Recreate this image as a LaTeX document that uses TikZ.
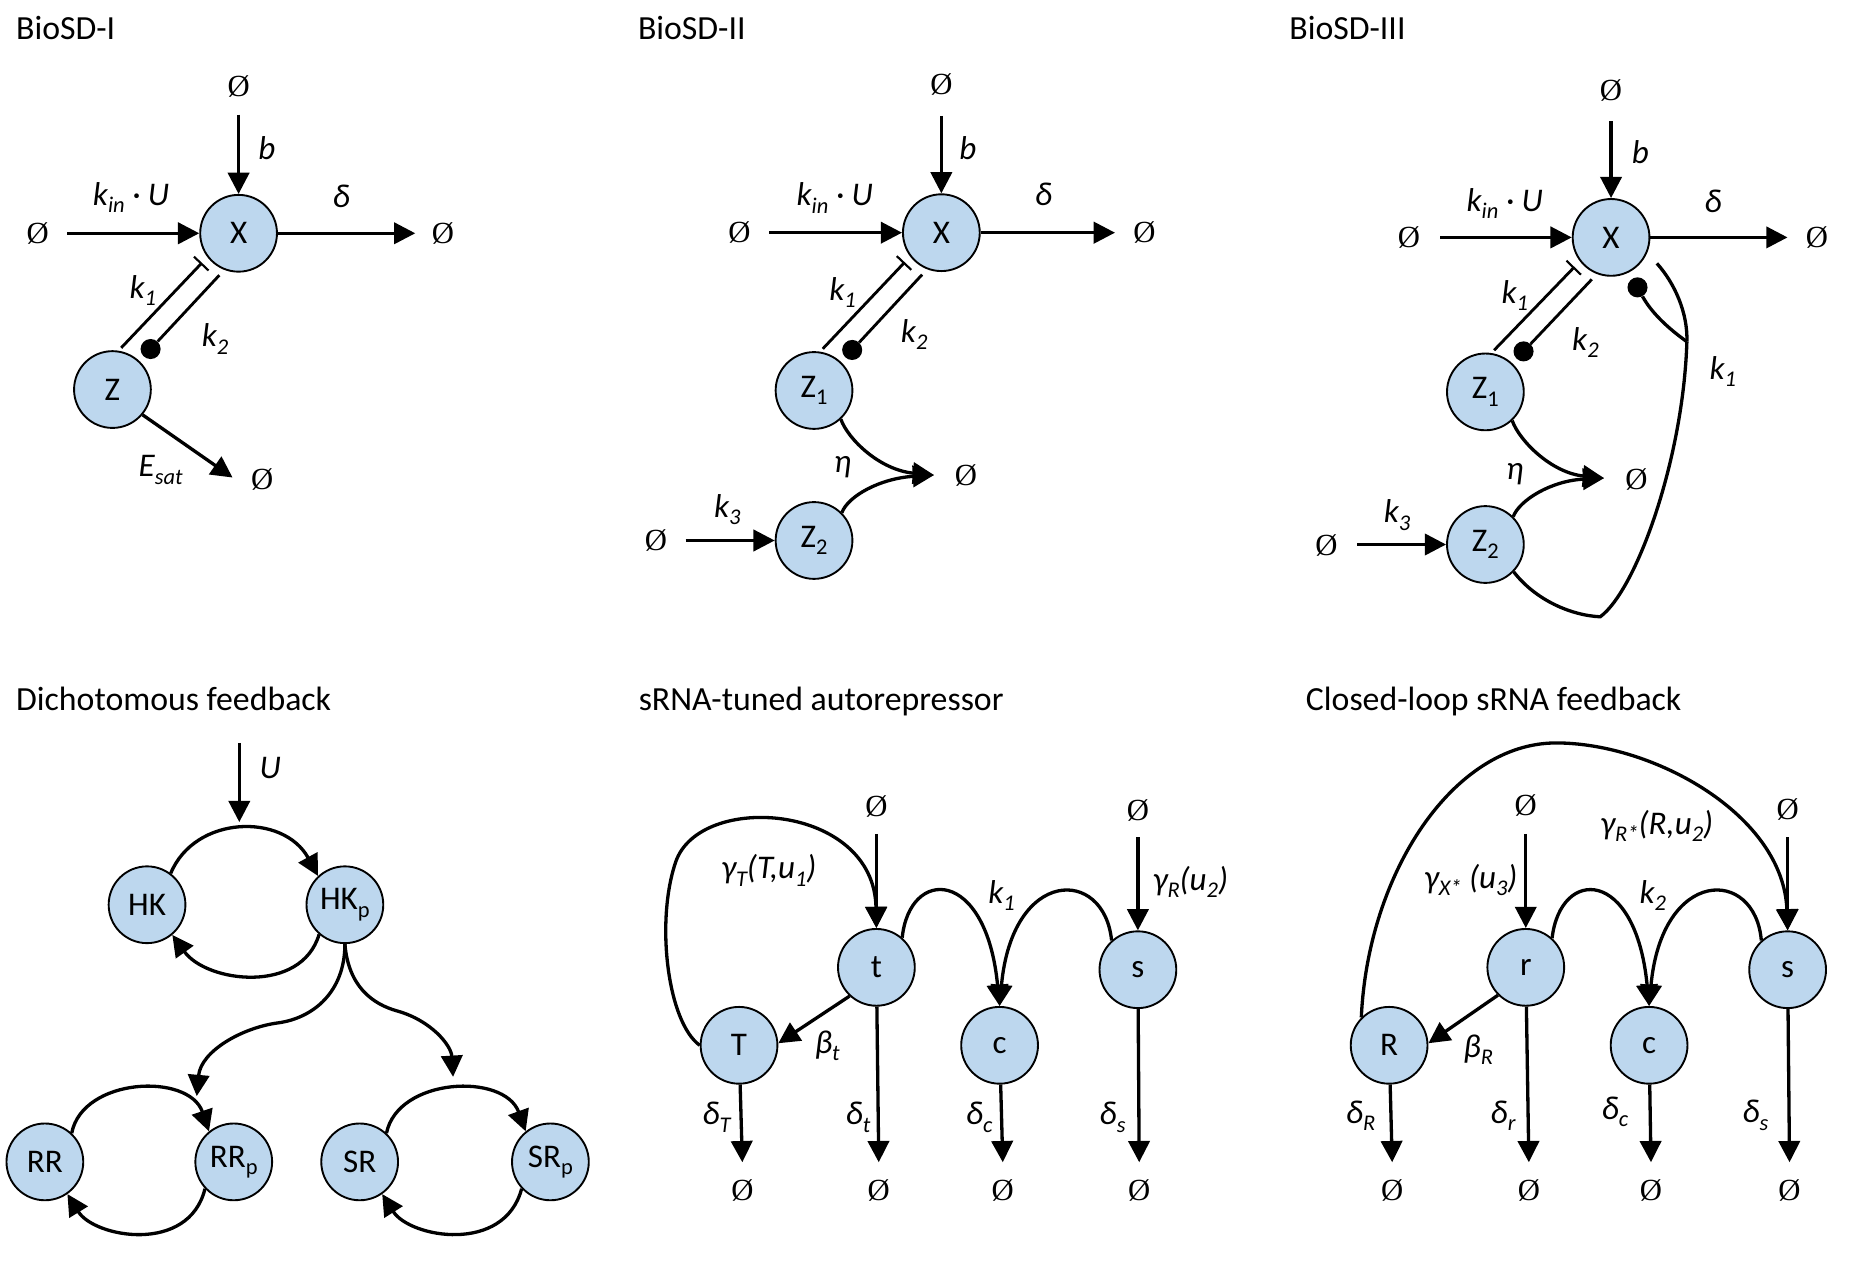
\documentclass[tikz,border=0pt]{standalone}
\usepackage{fontspec}
\setmainfont{Carlito}
\newfontfamily\libserif{Liberation Serif}
\usetikzlibrary{arrows.meta}
\definecolor{nodeblue}{RGB}{189,215,238}
\newcommand\ttlfont{\fontsize{28.6}{34}\selectfont}
\newcommand\ndfont{\fontsize{28}{33}\selectfont}
\newcommand\lbfont{\fontsize{28}{33}\selectfont\itshape}
\newcommand\ezfont{\fontsize{26}{30}\selectfont\libserif}
\newcommand\lsub[1]{\raisebox{-0.22em}{\fontsize{19}{19}\selectfont #1}}
\tikzset{
  sp/.style={circle,draw,line width=1.6pt,fill=nodeblue,minimum size=65pt,inner sep=0pt,font=\ndfont},
  nul/.style={inner sep=0pt,font=\ezfont},
  lab/.style={inner sep=0pt,font=\lbfont},
  ttl/.style={inner sep=0pt,anchor=base west,font=\ttlfont},
  conn/.style={line width=2.8pt},
  arr/.style={conn,-{Triangle[length=18pt,width=18pt]}},
  inh/.style={line width=2.4pt,-{Bar[width=17pt,line width=1.8pt]}},
  actl/.style={line width=2.4pt},
  dotn/.style={circle,fill=black,minimum size=17pt,inner sep=0pt},
}
\begin{document}
\begin{tikzpicture}[x=1pt,y=-1pt]
\fill[white] (0,0) rectangle (1568,1068);
\useasboundingbox (0,0) rectangle (1568,1068);

% ---------------- BioSD-I ----------------
\node[ttl] (T1) at (13.5,33.4) {BioSD-I};
\node[sp] (X1) at (202,197.5) {X};
\node[sp] (Z1) at (95.2,329.8) {Z};
\node[nul] (n1t) at (202,73) {Ø};
\node[nul] (n1l) at (32,197.5) {Ø};
\node[nul] (n1r) at (375,197.5) {Ø};
\node[nul] (n1z) at (222,406) {Ø};
\coordinate (a1t) at (202,97);
\coordinate (a1l) at (57,197.5);
\coordinate (a1r) at (351.6,197.5);
\coordinate (a1z) at (196.9,404.3);
\draw[arr] (a1t) -- (X1);
\draw[arr] (a1l) -- (X1);
\draw[arr] (X1) -- (a1r);
\draw[arr] (Z1.-40) -- (a1z);
\coordinate (i1s) at (102.6,294.5);
\coordinate (i1e) at (171,222.5);
\coordinate (d1s) at (185.7,233);
\node[dotn] (dot1) at (127.5,295.5) {};
\draw[inh] (i1s) -- (i1e);
\draw[actl] (d1s) -- (dot1);
\node[lab] (l1b) at (226,125) {b};
\node[lab] (l1k) at (111,167) {k\lsub{in} · U};
\node[lab] (l1d) at (289,166) {δ};
\node[lab] (l1k1) at (121,246) {k\lsub{1}};
\node[lab] (l1k2) at (182,287) {k\lsub{2}};
\node[lab] (l1e) at (136,398) {E\lsub{sat}};

% ---------------- BioSD-II ----------------
\node[ttl] (T2) at (540,33.4) {BioSD-II};
\node[sp] (X2) at (797,197) {X};
\node[sp] (Za2) at (689.2,330.6) {Z\lsub{1}};
\node[sp] (Zb2) at (689.2,457.6) {Z\lsub{2}};
\node[nul] (n2t) at (797,71.7) {Ø};
\node[nul] (n2l) at (626,197) {Ø};
\node[nul] (n2r) at (969,197) {Ø};
\node[nul] (n2m) at (817.8,402.2) {Ø};
\node[nul] (n2k) at (555.3,457.6) {Ø};
\coordinate (a2t) at (797,98);
\coordinate (a2l) at (651.2,197);
\coordinate (a2r) at (944,197);
\coordinate (a2m) at (790.8,402.2);
\coordinate (a2k) at (580.5,457.6);
\draw[arr] (a2t) -- (X2);
\draw[arr] (a2l) -- (X2);
\draw[arr] (X2) -- (a2r);
\draw[arr] (a2k) -- (Zb2);
\draw[arr] (Za2.-47) .. controls (718,372) and (745,398) .. (a2m);
\draw[arr] (Zb2.45) .. controls (718,420) and (745,405) .. (a2m);
\coordinate (i2s) at (696.6,295.3);
\coordinate (i2e) at (766,222);
\coordinate (d2s) at (780.7,232.5);
\node[dotn] (dot2) at (721.5,296.3) {};
\draw[inh] (i2s) -- (i2e);
\draw[actl] (d2s) -- (dot2);
\node[lab] (l2b) at (819.5,125) {b};
\node[lab] (l2k) at (706.7,167.7) {k\lsub{in} · U};
\node[lab] (l2d) at (883.4,164.5) {δ};
\node[lab] (l2k1) at (713.4,247.5) {k\lsub{1}};
\node[lab] (l2k2) at (774,283.4) {k\lsub{2}};
\node[lab] (l2e) at (713.4,395.7) {η};
\node[lab] (l2k3) at (615.8,431.5) {k\lsub{3}};

% ---------------- BioSD-III ----------------
\node[ttl] (T3) at (1091.5,33.4) {BioSD-III};
\node[sp] (X3) at (1364,201) {X};
\node[sp] (Za3) at (1257.6,331.8) {Z\lsub{1}};
\node[sp] (Zb3) at (1257.6,461) {Z\lsub{2}};
\node[nul] (n3t) at (1364,76.4) {Ø};
\node[nul] (n3l) at (1192.8,201) {Ø};
\node[nul] (n3r) at (1538.3,201) {Ø};
\node[nul] (n3m) at (1385.5,406) {Ø};
\node[nul] (n3k) at (1123,462) {Ø};
\coordinate (a3t) at (1364,102.5);
\coordinate (a3l) at (1219.4,201);
\coordinate (a3r) at (1513.4,201);
\coordinate (a3m) at (1358.1,404.8);
\coordinate (a3k) at (1149,461);
\draw[arr] (a3t) -- (X3);
\draw[arr] (a3l) -- (X3);
\draw[arr] (X3) -- (a3r);
\draw[arr] (a3k) -- (Zb3);
\draw[arr] (Za3.-47) .. controls (1286.4,373.2) and (1313.4,400.3) .. (a3m);
\draw[arr] (Zb3.45) .. controls (1286.4,423.4) and (1313.4,407) .. (a3m);
\coordinate (i3s) at (1265,296.5);
\coordinate (i3e) at (1333,226);
\coordinate (d3s) at (1347.7,236.5);
\node[dotn] (dot3) at (1289.9,297.5) {};
\draw[inh] (i3s) -- (i3e);
\draw[actl] (d3s) -- (dot3);
\coordinate (cr3) at (1354.8,522.2);
\coordinate (jn3) at (1428.2,289.3);
\coordinate (x3e) at (1402.8,223);
\node[dotn] (dot3b) at (1386.4,243.3) {};
\draw[conn] (Zb3.-44) .. controls (1300,508) and (1330,521) .. (cr3)
   .. controls (1385,500) and (1425,390) .. (jn3);
\draw[conn] (jn3) .. controls (1429,265) and (1418,240) .. (x3e);
\draw[conn] (jn3) .. controls (1418,282) and (1400,268) .. (dot3b);
\node[lab] (l3b) at (1388.8,128.5) {b};
\node[lab] (l3k) at (1274,172) {k\lsub{in} · U};
\node[lab] (l3d) at (1450.3,170.2) {δ};
\node[lab] (l3k1) at (1282.5,250) {k\lsub{1}};
\node[lab] (l3k2) at (1342.3,290) {k\lsub{2}};
\node[lab] (l3e) at (1282.5,401.2) {η};
\node[lab] (l3k3) at (1182.9,436) {k\lsub{3}};
\node[lab] (l3k1b) at (1458.6,314.4) {k\lsub{1}};

% ---------------- Dichotomous feedback ----------------
\node[ttl] (T4) at (13.5,601.3) {Dichotomous feedback};
\node[sp] (HK) at (124.5,766) {HK};
\node[sp] (HKp) at (292,766) {HK\lsub{p}};
\node[sp] (RR) at (38,983.7) {RR};
\node[sp] (RRp) at (197.9,983.7) {RR\lsub{p}};
\node[sp] (SR) at (304.5,983.7) {SR};
\node[sp] (SRp) at (466,983.7) {SR\lsub{p}};
\coordinate (u0) at (202.6,629);
\coordinate (u1) at (202.6,696);
\draw[arr] (u0) -- (u1);
\node[lab] (lU) at (228.8,650.3) {U};
\draw[arr] (HK.53) .. controls (165,690) and (240,688) .. (HKp.133);
\draw[arr] (HKp.-131) .. controls (255,842) and (175,832) .. (HK.-50);
\coordinate (b4m) at (235.5,866);
\coordinate (b4l) at (166.6,928);
\coordinate (b4n) at (336.5,856);
\coordinate (b4r) at (383.6,911.7);
\draw[arr] (HKp.-90) .. controls (292,840) and (265,862) .. (b4m)
   .. controls (205,870) and (170,890) .. (b4l);
\draw[arr] (HKp.-90) .. controls (295,835) and (315,850) .. (b4n)
   .. controls (365,864) and (382,885) .. (b4r);
\draw[arr] (RR.47) .. controls (70,912) and (160,908) .. (RRp.129);
\draw[arr] (RRp.-137) .. controls (160,1062) and (80,1048) .. (RR.-55);
\draw[arr] (SR.47) .. controls (337,912) and (427,908) .. (SRp.129);
\draw[arr] (SRp.-137) .. controls (427,1062) and (347,1048) .. (SR.-55);

% ---------------- sRNA-tuned autorepressor ----------------
\node[ttl] (T5) at (540.6,601.3) {sRNA-tuned autorepressor};
\node[sp] (t5) at (742,819) {t};
\node[sp] (TT5) at (625.7,885) {T};
\node[sp] (c5) at (846.3,885) {c};
\node[sp] (s5) at (963.4,821) {s};
\node[nul] (n5t) at (742,683) {Ø};
\node[nul] (n5s) at (963.4,686) {Ø};
\node[nul] (n5a) at (628.5,1008) {Ø};
\node[nul] (n5b) at (744,1008) {Ø};
\node[nul] (n5c) at (849,1008) {Ø};
\node[nul] (n5d) at (964.5,1008) {Ø};
\coordinate (a5t) at (742,706);
\coordinate (a5s) at (963.4,709);
\coordinate (b5a) at (628.5,984);
\coordinate (b5b) at (744,984);
\coordinate (b5c) at (849,984);
\coordinate (b5d) at (964.5,984);
\draw[arr] (a5t) -- (t5);
\draw[arr] (a5s) -- (s5);
\draw[arr] (TT5) -- (b5a);
\draw[arr] (t5) -- (b5b);
\draw[arr] (c5) -- (b5c);
\draw[arr] (s5) -- (b5d);
\coordinate (l5m) at (572,730);
\draw[arr] (TT5.west) .. controls (565,865) and (555,780) .. (l5m)
   .. controls (592,670) and (740,680) .. (t5.north);
\draw[arr] (t5.227) -- (TT5.3);
\draw[arr] (t5.49) .. controls (770,734) and (835,734) .. (c5.north);
\draw[arr] (s5.132) .. controls (935,734) and (857,734) .. (c5.north);
\node[lab] (l5g) at (651,737) {γ\lsub{T}(T,u\lsub{1})};
\node[lab] (l5r) at (1007.9,746.7) {γ\lsub{R}(u\lsub{2})};
\node[lab] (l5k) at (848,758.2) {k\lsub{1}};
\node[lab] (l5b) at (700.4,885.6) {β\lsub{t}};
\node[lab] (l5da) at (606.6,946) {δ\lsub{T}};
\node[lab] (l5db) at (726.5,946) {δ\lsub{t}};
\node[lab] (l5dc) at (829,946) {δ\lsub{c}};
\node[lab] (l5dd) at (941.9,946) {δ\lsub{s}};

% ---------------- Closed-loop sRNA feedback ----------------
\node[ttl] (T6) at (1105.5,601.3) {Closed-loop sRNA feedback};
\node[sp] (r6) at (1291.8,819) {r};
\node[sp] (R6) at (1176.1,885) {R};
\node[sp] (c6) at (1396.2,885) {c};
\node[sp] (s6) at (1513.5,821) {s};
\node[nul] (n6r) at (1291.8,682) {Ø};
\node[nul] (n6s) at (1513.5,685) {Ø};
\node[nul] (n6a) at (1178.7,1008) {Ø};
\node[nul] (n6b) at (1294.4,1008) {Ø};
\node[nul] (n6c) at (1397.8,1008) {Ø};
\node[nul] (n6d) at (1515.1,1008) {Ø};
\coordinate (a6r) at (1291.8,706);
\coordinate (a6s) at (1513.5,709);
\coordinate (b6a) at (1178.7,984);
\coordinate (b6b) at (1294.4,984);
\coordinate (b6c) at (1397.8,984);
\coordinate (b6d) at (1515.1,984);
\draw[arr] (a6r) -- (r6);
\draw[arr] (a6s) -- (s6);
\draw[arr] (R6) -- (b6a);
\draw[arr] (r6) -- (b6b);
\draw[arr] (c6) -- (b6c);
\draw[arr] (s6) -- (b6d);
\coordinate (p6) at (1317.5,629);
\draw[arr] (R6.135) .. controls (1158,740) and (1230,629) .. (p6)
   .. controls (1400,629) and (1510,690) .. (s6.north);
\draw[arr] (r6.225) -- (R6.3);
\draw[arr] (r6.48) .. controls (1321,734) and (1385,734) .. (c6.north);
\draw[arr] (s6.132) .. controls (1486,734) and (1407,734) .. (c6.north);
\node[lab] (l6x) at (1245.2,745.1) {γ\lsub{X*} (u\lsub{3})};
\node[lab] (l6g) at (1402.7,699.3) {γ\lsub{R*}(R,u\lsub{2})};
\node[lab] (l6k) at (1399.4,758.2) {k\lsub{2}};
\node[lab] (l6b) at (1251.6,888.9) {β\lsub{R}};
\node[lab] (l6da) at (1152,944.4) {δ\lsub{R}};
\node[lab] (l6db) at (1272.5,944.4) {δ\lsub{r}};
\node[lab] (l6dc) at (1367.3,941.2) {δ\lsub{c}};
\node[lab] (l6dd) at (1486.2,944.4) {δ\lsub{s}};
\end{tikzpicture}
\end{document}
